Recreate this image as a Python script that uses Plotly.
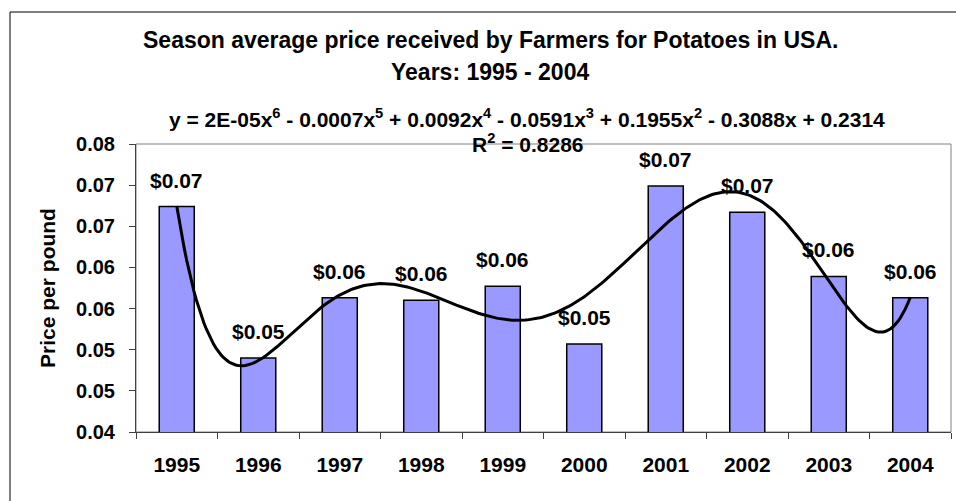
import numpy as np
import plotly.graph_objects as go

# ---- data ----
years = ["1995", "1996", "1997", "1998", "1999", "2000", "2001", "2002", "2003", "2004"]
prices = [0.0674, 0.0490, 0.0563, 0.0560, 0.0577, 0.0507, 0.0699, 0.0667, 0.0589, 0.0563]
ytick_vals = [0.040, 0.045, 0.050, 0.055, 0.060, 0.065, 0.070, 0.075]
ytick_text = ["0.04", "0.05", "0.05", "0.06", "0.06", "0.07", "0.07", "0.08"]
title_line1 = "Season average price received by Farmers for Potatoes in USA."
title_line2 = "Years: 1995 - 2004"
equation = ("y = 2E-05x<sup>6</sup> - 0.0007x<sup>5</sup> + 0.0092x<sup>4</sup> - 0.0591x<sup>3</sup>"
            " + 0.1955x<sup>2</sup> - 0.3088x + 0.2314")
r_squared = "R<sup>2</sup> = 0.8286"
y_title = "Price per pound"

FONT = "Liberation Sans, Arial, sans-serif"


def bold(size):
    return dict(family=FONT, size=size, color="#000000", weight="bold")


# 6th-order polynomial trendline computed from the bar values (as Excel does)
t = np.arange(1, len(prices) + 1)
coef = np.polyfit(t, prices, 6)
tt = np.linspace(1, len(prices), 300)
trend = np.polyval(coef, tt)

idx = list(range(len(years)))

fig = go.Figure()
fig.add_trace(go.Bar(
    x=idx, y=prices, width=0.43,
    marker=dict(color="#9999FF", line=dict(color="#000000", width=1.5)),
    showlegend=False, hoverinfo="y",
))
fig.add_trace(go.Scatter(
    x=tt - 1, y=trend, mode="lines",
    line=dict(color="#000000", width=3), showlegend=False,
))

annotations = []
for i, p in zip(idx, prices):
    annotations.append(dict(
        x=i, y=p, xref="x", yref="y", text="&#36;%.2f" % p, showarrow=False,
        yanchor="bottom", yshift=13, font=bold(21),
    ))

W, H = 956, 501
L, R, T, B = 136, 5, 144, 69
pw, ph = W - L - R, H - T - B


def px(x):
    return (x - L) / pw


def py(y):
    return (H - B - y) / ph


annotations += [
    dict(x=px(490), y=py(40), xref="paper", yref="paper", text=title_line1, showarrow=False,
         xanchor="center", yanchor="middle", font=bold(23)),
    dict(x=px(490), y=py(72), xref="paper", yref="paper", text=title_line2, showarrow=False,
         xanchor="center", yanchor="middle", font=bold(23)),
    dict(x=px(527), y=py(118), xref="paper", yref="paper", text=equation, showarrow=False,
         xanchor="center", yanchor="middle", font=bold(21)),
    dict(x=px(528), y=py(143), xref="paper", yref="paper", text=r_squared, showarrow=False,
         xanchor="center", yanchor="middle", font=bold(21)),
]

fig.update_layout(
    width=W, height=H,
    margin=dict(l=L, r=R, t=T, b=B, pad=0),
    paper_bgcolor="#FFFFFF", plot_bgcolor="#FFFFFF",
    font=dict(family=FONT, size=20, color="#000000"),
    xaxis=dict(
        range=[-0.5, 9.5], tickvals=idx, ticktext=years,
        ticks="", showline=True, linecolor="#404040", linewidth=1,
        showgrid=False, zeroline=False,
        tickfont=bold(21), ticklabelstandoff=14, fixedrange=True,
        minor=dict(tickvals=[i - 0.5 for i in idx] + [9.5], ticks="outside", ticklen=6,
                   tickcolor="#404040", tickwidth=1, showgrid=False),
    ),
    yaxis=dict(
        range=[0.040, 0.075], tickvals=ytick_vals, ticktext=ytick_text,
        ticks="outside", ticklen=6, tickcolor="#404040", tickwidth=1,
        showline=True, linecolor="#404040", linewidth=1,
        showgrid=False, zeroline=False,
        tickfont=bold(20), ticklabelstandoff=10, fixedrange=True,
        title=dict(text=y_title, font=bold(21), standoff=14),
    ),
    annotations=annotations,
    shapes=[
        # plot area border
        dict(type="rect", xref="paper", yref="paper", x0=0, y0=0, x1=1, y1=1,
             line=dict(color="#808080", width=1), layer="below"),
        # chart area border (extends past the visible window on right and bottom)
        dict(type="rect", xref="paper", yref="paper", x0=px(10), y0=py(520), x1=px(1000), y1=py(12),
             line=dict(color="#000000", width=1), layer="below"),
    ],
)

fig.write_html(
    "out.html",
    config={"displayModeBar": False},
    post_script="document.body.style.margin='0';document.body.style.overflow='hidden';",
)
